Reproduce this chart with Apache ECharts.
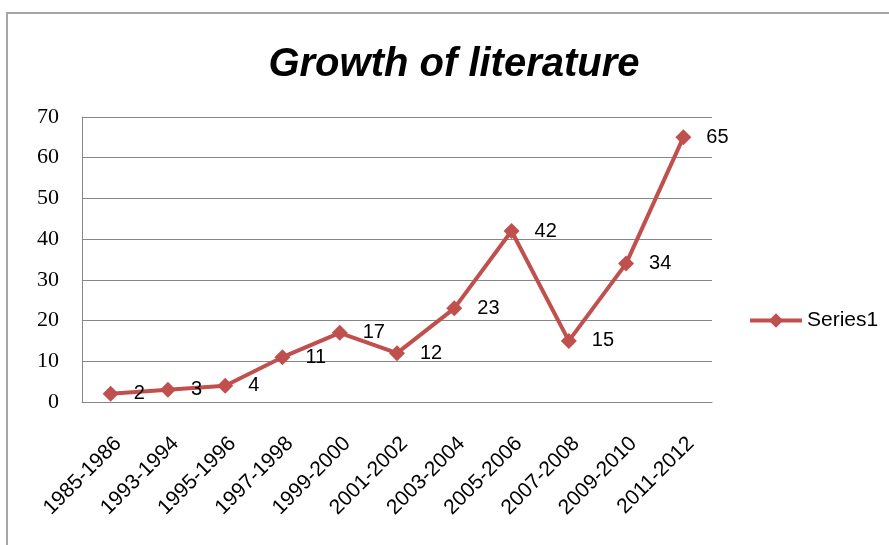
<!DOCTYPE html>
<html>
<head>
<meta charset="utf-8">
<script src="https://cdn.jsdelivr.net/npm/echarts@6/dist/echarts.min.js"></script>
<style>
html,body{margin:0;padding:0;background:#fff;}
#c{width:889px;height:545px;}
</style>
</head>
<body>
<div id="c"></div>
<script>
var categories = ['1985-1986','1993-1994','1995-1996','1997-1998','1999-2000','2001-2002','2003-2004','2005-2006','2007-2008','2009-2010','2011-2012'];
var values = [2, 3, 4, 11, 17, 12, 23, 42, 15, 34, 65];
var seriesName = 'Series1';
var titleText = 'Growth of literature';

var chart = echarts.init(document.getElementById('c'));
chart.setOption({
  animation: false,
  backgroundColor: '#fff',
  graphic: [{
    type: 'rect',
    shape: {x: 7, y: 13, width: 1000, height: 700},
    style: {fill: 'none', stroke: '#a6a6a6', lineWidth: 2},
    silent: true
  }],
  title: {
    text: titleText,
    left: 449, top: 40, textAlign: 'center',
    textStyle: {fontFamily: 'Liberation Sans', fontStyle: 'italic', fontWeight: 'bold', fontSize: 40, color: '#000'}
  },
  legend: {
    data: [seriesName],
    left: 743, top: 305,
    itemWidth: 52, itemHeight: 18, itemGap: 4,
    selectedMode: false,
    lineStyle: {width: 4, color: '#C0504D'},
    textStyle: {fontFamily: 'Liberation Sans', fontSize: 21, color: '#000'}
  },
  grid: {left: 82, right: 177, top: 117, bottom: 143},
  xAxis: {
    type: 'category',
    data: categories,
    boundaryGap: true,
    axisLine: {lineStyle: {color: '#868686', width: 1}},
    axisTick: {show: false},
    axisLabel: {
      rotate: 45, interval: 0, margin: 31, verticalAlign: 'top',
      fontFamily: 'Liberation Sans', fontSize: 21, color: '#000'
    }
  },
  yAxis: {
    type: 'value', min: 0, max: 70, interval: 10,
    axisLine: {show: true, lineStyle: {color: '#868686', width: 1}},
    axisTick: {show: false},
    splitLine: {lineStyle: {color: '#868686', width: 1}},
    axisLabel: {margin: 23, fontFamily: 'Liberation Serif', fontSize: 22, color: '#000'}
  },
  series: [{
    name: seriesName,
    type: 'line',
    data: values,
    symbol: 'diamond',
    symbolSize: 16,
    itemStyle: {color: '#C0504D'},
    lineStyle: {color: '#C0504D', width: 4},
    label: {
      show: true, position: 'right', distance: 15,
      fontFamily: 'Liberation Sans', fontSize: 20, color: '#000'
    }
  }]
});
</script>
</body>
</html>
